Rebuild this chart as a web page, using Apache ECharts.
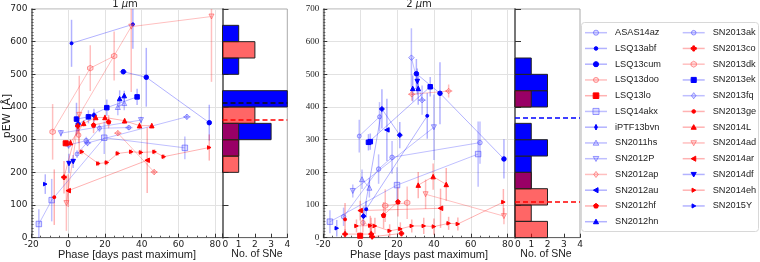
<!DOCTYPE html>
<html><head><meta charset="utf-8">
<script src="https://cdn.jsdelivr.net/npm/echarts@6/dist/echarts.min.js"></script>
<style>html,body{margin:0;padding:0;background:#fff}#c{width:760px;height:262px}</style>
</head><body><div id="c"></div>
<script>
// ---------------- DATA ----------------
const snNames = ["ASAS14az","LSQ13abf","LSQ13cum","LSQ13doo","LSQ13lo","LSQ14akx","iPTF13bvn","SN2011hs","SN2012P","SN2012ap","SN2012au","SN2012hf","SN2012hn",
  "SN2013ak","SN2013co","SN2013dk","SN2013ek","SN2013fq","SN2013ge","SN2014L","SN2014ad","SN2014ar","SN2014df","SN2014eh","SN2015Y"];
const phaseTicks = [-20,0,20,40,60,80];
const countTicks = [0,1,2,3,4];
// each point: [phase, pEW, pEW error, phase error]
// 1 micron
const d1_ASAS14az = [[0.2,284,12],[9.8,297,12]];
const d1_LSQ13abf = [[1.8,595,72],[35.2,653,75]];
const d1_LSQ13cum = [[30,508,8,2],[42.5,491,90],[76.8,352,55]];
const d1_LSQ13doo = [[5.7,314,25]];
const d1_LSQ13lo = [[-1.4,289,10]];
const d1_LSQ14akx = [[-16,42,45],[-9,115,65],[19.6,306,50],[63.5,275,35]];
const d1_iPTF13bvn = [[5.4,348,22],[14,375,20]];
const d1_SN2011hs = [[27,400,25],[30.5,412,22]];
const d1_SN2012P = [[-4,320,10],[39.6,360,10]];
const d1_SN2012ap = [[27,320,8,2],[46.8,201,8,2]];
const d1_SN2012au = [];
const d1_SN2012hf = [[13.8,345,25],[22,355,20]];
const d1_SN2012hn = [[28,426,25],[30.5,435,15]];
const d1_SN2013ak = [[4.8,256,12],[17,335,12],[33,337,8,2]];
const d1_SN2013co = [[-2.3,185,50],[5.2,342,20]];
const d1_SN2013dk = [[-8.5,324,85],[12,519,70],[25,556,75]];
const d1_SN2013ek = [[4.5,363,50],[11,370,20],[21,398,25],[37.5,431,25]];
const d1_SN2013fq = [[10.5,290,10,2],[64.6,370,8,2]];
const d1_SN2013ge = [[-7.6,124,85]];
const d1_SN2014L = [[1.2,291,10],[8.4,350,10],[15,368,8],[20,368,8],[30.7,358,8],[38.8,343,10],[45.5,343,8]];
const d1_SN2014ad = [[-1,106,85],[6,376,120],[34.3,646,200],[78,677,200]];
const d1_SN2014ar = [[0,144,50],[43,237,100]];
const d1_SN2014df = [[0.4,227,30],[2.7,233,20]];
const d1_SN2014eh = [[7.5,263,8],[16.4,227,8],[21,230,8],[27,258,8],[34.3,263,8],[39.6,261,8],[47,263,8],[52,248,8],[76.8,276,40]];
const d1_SN2015Y = [[-12.5,164,30]];
// 2 micron
const d2_ASAS14az = [[-9,64,28],[10,210,45],[17.3,246,50],[65,291,65]];
const d2_LSQ13abf = [[3.3,87,25],[36.4,373,70]];
const d2_LSQ13cum = [[30.5,502,45],[43.3,442,95],[78,241,60]];
const d2_LSQ13doo = [[1.5,46,30],[6,36,25]];
const d2_LSQ13lo = [[0,6,10]];
const d2_LSQ14akx = [[-16.4,49,35],[20,161,55],[64,256,100]];
const d2_iPTF13bvn = [[1.8,66,30],[11.8,394,60],[21.5,314,40]];
const d2_SN2011hs = [[1,179,30],[5,153,30]];
const d2_SN2012P = [[-4,143,20],[40,338,100]];
const d2_SN2012ap = [[28,439,20,2],[48,449,20,2]];
const d2_SN2012au = [[14.5,330,95]];
const d2_SN2012hf = [[12.7,69,40],[20.5,110,45]];
const d2_SN2012hn = [[28.5,457,40],[31.5,457,50]];
const d2_SN2013ak = [[-0.5,311,50],[10.5,370,45]];
const d2_SN2013co = [[-8.2,11,15],[6,11,15],[6.5,3,10],[22.4,13,15]];
const d2_SN2013dk = [[13.6,98,50],[25.5,107,50]];
const d2_SN2013ek = [[4.5,292,25],[5.5,294,25],[38,462,30]];
const d2_SN2013fq = [[27.8,551,90],[33.6,421,45,2]];
const d2_SN2013ge = [[-8.2,56,50]];
const d2_SN2014L = [[31.5,161,40],[39.6,187,40],[46.7,163,50]];
const d2_SN2014ad = [[35.5,133,45],[78,66,25]];
const d2_SN2014ar = [[0,83,30],[43.6,90,60]];
const d2_SN2014df = [[31,478,40]];
const d2_SN2014eh = [[-2,36,20],[5.5,37,30],[8,36,25],[16,21,20],[21.8,27,20],[28,36,20],[34.5,36,25],[40,34,25],[48,44,20],[53,42,20],[77.7,109,40]];
const d2_SN2015Y = [[-12.7,29,25]];
// histograms: counts per 50 A bin from 0 to 700
const binWidth = 50;
const hist1Blue = [0,0,0,0,0,1,3,0,4,0,1,0,1,0];
const hist1Red  = [0,0,0,0,1,1,1,2,0,0,0,2,0,0];
const hist2Blue = [0,0,0,1,1,2,1,0,2,2,1,0,0,0];
const hist2Red  = [2,1,2,1,0,0,0,0,1,0,0,0,0,0];
const mean1Blue = 412, mean1Red = 360;
const mean2Blue = 366, mean2Red = 109;

// ---------------- STYLE ----------------
const D1 = {ASAS14az:d1_ASAS14az,LSQ13abf:d1_LSQ13abf,LSQ13cum:d1_LSQ13cum,LSQ13doo:d1_LSQ13doo,LSQ13lo:d1_LSQ13lo,LSQ14akx:d1_LSQ14akx,iPTF13bvn:d1_iPTF13bvn,SN2011hs:d1_SN2011hs,SN2012P:d1_SN2012P,SN2012ap:d1_SN2012ap,SN2012au:d1_SN2012au,SN2012hf:d1_SN2012hf,SN2012hn:d1_SN2012hn,SN2013ak:d1_SN2013ak,SN2013co:d1_SN2013co,SN2013dk:d1_SN2013dk,SN2013ek:d1_SN2013ek,SN2013fq:d1_SN2013fq,SN2013ge:d1_SN2013ge,SN2014L:d1_SN2014L,SN2014ad:d1_SN2014ad,SN2014ar:d1_SN2014ar,SN2014df:d1_SN2014df,SN2014eh:d1_SN2014eh,SN2015Y:d1_SN2015Y};
const D2 = {ASAS14az:d2_ASAS14az,LSQ13abf:d2_LSQ13abf,LSQ13cum:d2_LSQ13cum,LSQ13doo:d2_LSQ13doo,LSQ13lo:d2_LSQ13lo,LSQ14akx:d2_LSQ14akx,iPTF13bvn:d2_iPTF13bvn,SN2011hs:d2_SN2011hs,SN2012P:d2_SN2012P,SN2012ap:d2_SN2012ap,SN2012au:d2_SN2012au,SN2012hf:d2_SN2012hf,SN2012hn:d2_SN2012hn,SN2013ak:d2_SN2013ak,SN2013co:d2_SN2013co,SN2013dk:d2_SN2013dk,SN2013ek:d2_SN2013ek,SN2013fq:d2_SN2013fq,SN2013ge:d2_SN2013ge,SN2014L:d2_SN2014L,SN2014ad:d2_SN2014ad,SN2014ar:d2_SN2014ar,SN2014df:d2_SN2014df,SN2014eh:d2_SN2014eh,SN2015Y:d2_SN2015Y};
// unit marker outlines (y down)
const SHAPES = {
  square:[[-1,-1],[1,-1],[1,1],[-1,1]],
  up:[[0,-1],[1,0.8],[-1,0.8]],
  down:[[0,1],[1,-0.8],[-1,-0.8]],
  left:[[-1,0],[0.8,-1],[0.8,1]],
  right:[[1,0],[-0.8,-1],[-0.8,1]],
  diamond:[[0,-1],[0.75,0],[0,1],[-0.75,0]],
  thin:[[0,-1],[0.5,0],[0,1],[-0.5,0]],
  pent:[[0,-1],[0.95,-0.31],[0.59,0.81],[-0.59,0.81],[-0.95,-0.31]],
  hex:[[0,-1],[0.87,-0.5],[0.87,0.5],[0,1],[-0.87,0.5],[-0.87,-0.5]],
  plus:[[-0.35,-1],[0.35,-1],[0.35,-0.35],[1,-0.35],[1,0.35],[0.35,0.35],[0.35,1],[-0.35,1],[-0.35,0.35],[-1,0.35],[-1,-0.35],[-0.35,-0.35]]
};
function pathOf(k){ if(k==='circle') return 'circle';
  return 'path://M'+SHAPES[k].map(p=>p[0]+','+p[1]).join('L')+'Z'; }
// [colour kind, shape, size]
const styles = {
  ASAS14az:['b','circle',4.5], LSQ13abf:['B','circle',3], LSQ13cum:['B','circle',4.5], LSQ13doo:['r','circle',4.5],
  LSQ13lo:['R','square',5], LSQ14akx:['b','square',5.5], iPTF13bvn:['B','thin',5], SN2011hs:['b','up',5],
  SN2012P:['b','down',5], SN2012ap:['r','diamond',5.5], SN2012au:['B','left',4.5], SN2012hf:['R','pent',4.5],
  SN2012hn:['B','up',4.5], SN2013ak:['b','circle',4], SN2013co:['R','plus',4.5], SN2013dk:['r','hex',5.5],
  SN2013ek:['B','square',4.5], SN2013fq:['b','diamond',5.5], SN2013ge:['R','circle',3], SN2014L:['R','up',4.5],
  SN2014ad:['r','down',5], SN2014ar:['R','left',4.5], SN2014df:['B','down',4.5], SN2014eh:['R','right',3.5],
  SN2015Y:['B','right',3.5]
};
const palette = {
  B:{fill:'#0000ff',stroke:'#0000ff',line:'rgba(0,0,255,0.3)',err:'rgba(0,0,255,0.3)'},
  b:{fill:'rgba(120,120,255,0.25)',stroke:'rgba(60,60,255,0.5)',line:'rgba(0,0,255,0.25)',err:'rgba(0,0,255,0.25)'},
  R:{fill:'#ff0000',stroke:'#ff0000',line:'rgba(255,0,0,0.3)',err:'rgba(255,0,0,0.3)'},
  r:{fill:'rgba(255,120,120,0.25)',stroke:'rgba(255,60,60,0.5)',line:'rgba(255,0,0,0.25)',err:'rgba(255,0,0,0.25)'}
};
const FONT = 'DejaVu Sans';
const LFONT = 'Liberation Sans';
const YMIN = 0, YMAX = 700;

function errSeries(d, ax, color){
  return {type:'custom', xAxisIndex:ax, yAxisIndex:ax, silent:true, animation:false, z:1,
    data:d.map(p=>[p[0],p[1],p[2]||0,p[3]||0]), encode:{x:0,y:1},
    renderItem:(params, api)=>{
      const x=api.value(0), y=api.value(1), ey=api.value(2), ex=api.value(3);
      const t=api.coord([x,Math.min(YMAX,y+ey)]), b=api.coord([x,Math.max(YMIN,y-ey)]);
      const ch=[{type:'line',shape:{x1:t[0],y1:t[1],x2:b[0],y2:b[1]},style:{stroke:color,lineWidth:1.5}}];
      if(ex>0){const l=api.coord([x-ex,y]), r=api.coord([x+ex,y]);
        ch.push({type:'line',shape:{x1:l[0],y1:l[1],x2:r[0],y2:r[1]},style:{stroke:color,lineWidth:1.5}});}
      return {type:'group',children:ch};
    }};
}
function histSeries(counts, ax, fill){
  return {type:'custom', xAxisIndex:ax, yAxisIndex:ax, silent:true, animation:false, z:2,
    data:counts.map((c,i)=>[c,i*binWidth]).filter(p=>p[0]>0), encode:{x:0,y:1},
    renderItem:(params, api)=>{
      const c=api.value(0), lo=api.value(1);
      const a=api.coord([0,lo+binWidth]), b=api.coord([c,lo]);
      return {type:'rect',shape:{x:a[0],y:a[1],width:b[0]-a[0],height:b[1]-a[1]},style:{fill:fill,stroke:'#222',lineWidth:1}};
    }};
}
function meanLine(m, ax, color){
  return {type:'line', xAxisIndex:ax, yAxisIndex:ax, data:[[0,m],[4,m]], symbol:'none', silent:true, animation:false, z:5,
    lineStyle:{color:color,width:1.5,type:[5,3]}};
}

const series = [];
snNames.forEach(n=>{
  const st=styles[n], pal=palette[st[0]];
  [[D1[n],0],[D2[n],2]].forEach(([d,ax])=>{
    series.push({type:'line', name:n, xAxisIndex:ax, yAxisIndex:ax, data:d.map(p=>[p[0],p[1]]),
      symbol:pathOf(st[1]), symbolSize:st[2], showSymbol:true, animation:false, z:3,
      lineStyle:{color:pal.line,width:1}, itemStyle:{color:pal.fill,borderColor:pal.stroke,borderWidth:1},
      emphasis:{disabled:true}});
    series.push(errSeries(d, ax, pal.err));
  });
});
series.push(histSeries(hist1Blue,1,'#0000ff'), histSeries(hist1Red,1,'rgba(255,0,0,0.6)'));
series.push(histSeries(hist2Blue,3,'#0000ff'), histSeries(hist2Red,3,'rgba(255,0,0,0.6)'));
series.push(meanLine(mean1Blue,1,'#111'), meanLine(mean1Red,1,'#ff0000'));
series.push(meanLine(mean2Blue,3,'#0000ff'), meanLine(mean2Red,3,'#ff0000'));

function mainX(g){
  return {gridIndex:g, type:'value', min:-20, max:84, interval:20,
    axisLine:{show:true,onZero:false,lineStyle:{color:'#666',width:1}},
    axisTick:{show:true,inside:true,length:4,lineStyle:{color:'#333'}},
    minorTick:{show:true,splitNumber:4,length:2,lineStyle:{color:'#555'}},
    splitLine:{show:true,lineStyle:{color:'#e2e2e2',width:1}}, minorSplitLine:{show:false},
    axisLabel:{fontSize:9,color:'#222',margin:2,fontFamily:FONT,showMaxLabel:false,
      formatter:v=>phaseTicks.includes(v)?String(v):''}};
}
function mainY(g, serif){
  return {gridIndex:g, type:'value', min:YMIN, max:YMAX, interval:100,
    axisLine:{show:true,onZero:false,lineStyle:{color:'#666',width:1.5}},
    axisTick:{show:true,inside:true,length:4,lineStyle:{color:'#333'}},
    minorTick:{show:true,splitNumber:10,length:2,lineStyle:{color:'#555'}},
    splitLine:{show:true,lineStyle:{color:'#e2e2e2',width:1}},
    axisLabel:{fontSize:9,color:'#222',margin:4,fontFamily:serif?'Liberation Serif':FONT}};
}
function histX(g){
  return {gridIndex:g, type:'value', min:0, max:4, interval:1,
    axisLine:{show:true,onZero:false,lineStyle:{color:'#666'}},
    axisTick:{show:true,inside:true,length:4,lineStyle:{color:'#333'}},
    splitLine:{show:false},
    axisLabel:{fontSize:9,color:'#222',margin:2,fontFamily:FONT,alignMinLabel:'left',formatter:v=>countTicks.includes(v)?String(v):''}};
}
function histY(g){
  return {gridIndex:g, type:'value', min:YMIN, max:YMAX, interval:100,
    axisLine:{show:true,onZero:false,lineStyle:{color:'#777',width:2}},
    axisTick:{show:true,inside:true,length:6,lineStyle:{color:'#333'}},
    axisLabel:{show:false}, splitLine:{show:false}};
}
const gridBase = {show:true, borderColor:'#aaa', borderWidth:1, backgroundColor:'transparent', containLabel:false, outerBoundsMode:'none'};

// manual legend (two columns)
const legendEls = [{type:'rect',shape:{x:581.5,y:22.5,width:177,height:209,r:3},style:{fill:'#fff',stroke:'#d8d8d8',lineWidth:1},z:-1}];
snNames.forEach((n,i)=>{
  const col = i<13?0:1, row = i<13?i:i-13;
  const x0 = col===0?585:682.7, y = 32.7 + row*15.75;
  const st=styles[n], pal=palette[st[0]];
  legendEls.push({type:'line',shape:{x1:x0,y1:y,x2:x0+22,y2:y},style:{stroke:pal.line,lineWidth:1.5}});
  const cx=x0+11, s=(Array.isArray(st[2])?st[2][0]:st[2])/2+0.3;
  const mstyle={fill:pal.fill,stroke:pal.stroke,lineWidth:1};
  if(st[1]==='circle') legendEls.push({type:'circle',shape:{cx:cx,cy:y,r:s},style:mstyle});
  else legendEls.push({type:'polygon',shape:{points:SHAPES[st[1]].map(p=>[cx+p[0]*s,y+p[1]*s])},style:mstyle});
  legendEls.push({type:'text',x:x0+30,y:y,style:{text:n,fontSize:9.2,fontFamily:LFONT,fill:'#222',verticalAlign:'middle',textAlign:'left'}});
});
function label(text,x,y,size,font,rot){
  return {type:'text',x:x,y:y,rotation:rot||0,style:{text:text,fontSize:size,fontFamily:font,fill:'#222',textAlign:'center',verticalAlign:'middle'}};
}
function title(num,x){
  return {type:'text',x:x,y:-1,style:{text:num+' {i|μ}m',rich:{i:{fontStyle:'italic',fontSize:10,fontFamily:FONT}},fontSize:10,fontFamily:FONT,fill:'#222',textAlign:'center',verticalAlign:'top'}};
}

const option = {
  animation:false, backgroundColor:'#fff',
  grid:[
    Object.assign({left:31.5,top:9,width:191,height:228.7},gridBase),
    Object.assign({left:222.5,top:9,width:64.8,height:228.7},gridBase),
    Object.assign({left:323.3,top:9,width:191.7,height:228.7},gridBase),
    Object.assign({left:515,top:9,width:65,height:228.7},gridBase)
  ],
  xAxis:[mainX(0),histX(1),mainX(2),histX(3)],
  yAxis:[mainY(0,false),histY(1),mainY(2,true),histY(3)],
  graphic:[
    {type:'group',children:legendEls},
    title('1',125), title('2',419),
    label('Phase [days past maximum]',127,255,11,LFONT), label('Phase [days past maximum]',419,255,11,LFONT),
    label('No. of SNe',257,254.5,10.5,LFONT), label('No. of SNe',546,254.5,10.5,LFONT),
    label('pEW [Å]',7,116,11,FONT,Math.PI/2)
  ],
  series:series
};
const chart = echarts.init(document.getElementById('c'));
chart.setOption(option);
</script></body></html>
